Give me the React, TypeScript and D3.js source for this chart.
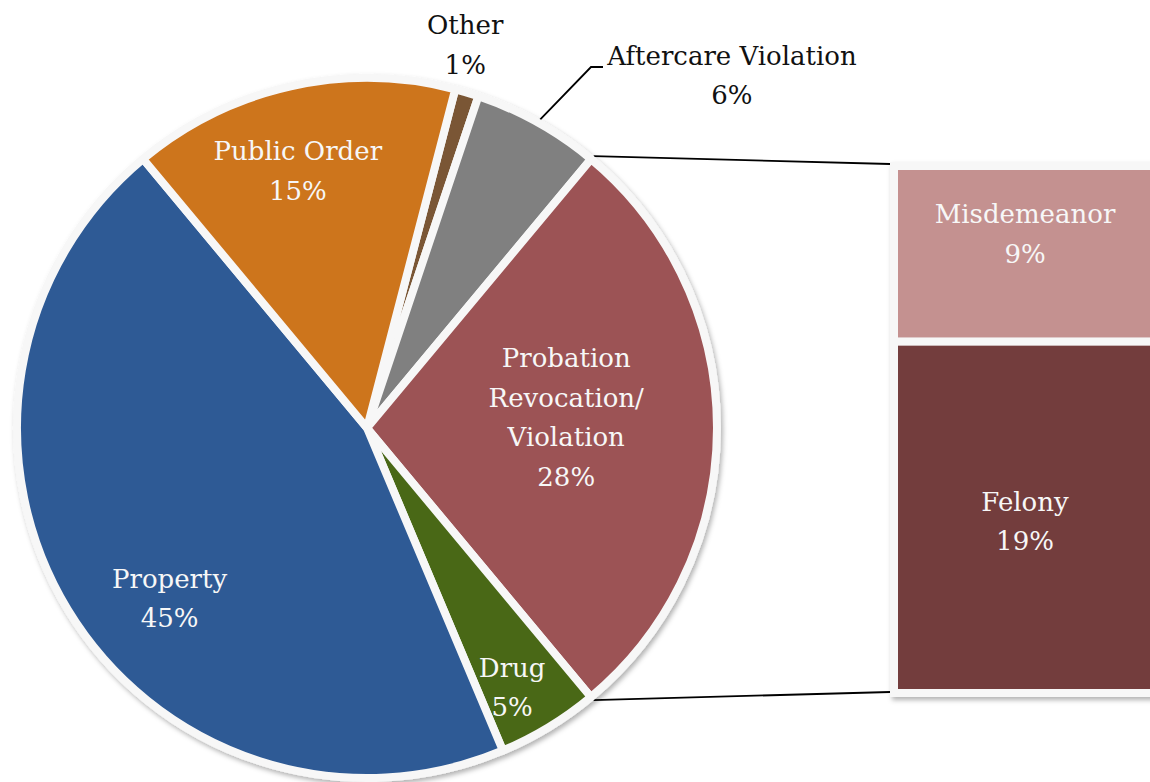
import React from "react";
import * as d3 from "d3";

const categories = ["Other", "Aftercare Violation", "Probation Revocation/ Violation", "Drug", "Property", "Public Order"];
const values = [1.1, 5.9, 27.9, 4.7, 45.3, 15.1];
const colors = ["#7A5635", "#808080", "#9C5254", "#4A6818", "#2E5A95", "#CD741E"];
const labelLines = [["Other"], ["Aftercare Violation"], ["Probation", "Revocation/", "Violation"], ["Drug"], ["Property"], ["Public Order"]];

const subCategories = ["Misdemeanor", "Felony"];
const subValues = [9.3, 18.6];
const subColors = ["#C49190", "#733D3E"];

const W = 1150, H = 782;
const CX = 367, CY = 428, R = 350;
const FONT = "'DejaVu Serif', serif";
const FS = 26;
const LH = 39.5;

// label placement: radius fraction and angle offset (deg) relative to slice mid-angle
const labelPlace: Record<string, { rf: number; da: number; dark?: boolean }> = {
  "Other": { rf: 1.13, da: -2.2, dark: true },
  "Aftercare Violation": { rf: 1.45, da: 16.8, dark: true },
  "Probation Revocation/ Violation": { rf: 0.57, da: -3 },
  "Drug": { rf: 0.85, da: 2.1 },
  "Property": { rf: 0.745, da: -9.5 },
  "Public Order": { rf: 0.76, da: -2.5 },
};

const rad = (d: number) => (d * Math.PI) / 180;
const polar = (a: number, r: number): [number, number] => [CX + r * Math.sin(a), CY - r * Math.cos(a)];

export default function App() {
  const startDeg = 14.6;
  const pie = d3.pie<number>().sort(null).value((d) => d).startAngle(rad(startDeg)).endAngle(rad(startDeg + 360));
  const arcs = pie(values);
  const arc = d3.arc<d3.PieArcDatum<number>>().innerRadius(0).outerRadius(R);

  const probIdx = 2;
  const probArc = arcs[probIdx];
  const total = d3.sum(subValues);
  const y = d3.scaleLinear().domain([0, total]).range([166, 693]);
  const barX = 894, barW = 262;
  const stacked = subValues.map((v, i) => ({ v, y0: d3.sum(subValues.slice(0, i)), y1: d3.sum(subValues.slice(0, i + 1)) }));

  const pTop = polar(probArc.startAngle, R + 4);
  const pBot = polar(probArc.endAngle, R + 4);

  const pct = (v: number) => `${Math.round(v)}%`;

  // Aftercare leader
  const acArc = arcs[1];
  const acMid = (acArc.startAngle + acArc.endAngle) / 2;
  const acStart = polar(acMid, R + 1);

  return (
    <svg width={W} height={H} style={{ position: "absolute", left: 0, top: 0, background: "#fff" }}>
      <defs>
        <filter id="sh" x="-10%" y="-10%" width="130%" height="130%">
          <feDropShadow dx="2" dy="3" stdDeviation="2.5" floodColor="#000" floodOpacity="0.3" />
        </filter>
      </defs>
      {/* connector lines */}
      <line x1={pTop[0]} y1={pTop[1]} x2={barX - 4} y2={y(0) - 2} stroke="#000" strokeWidth={1.8} />
      <line x1={pBot[0]} y1={pBot[1]} x2={barX - 4} y2={y(total) - 1} stroke="#000" strokeWidth={1.8} />
      {/* leader for aftercare */}
      <polyline
        points={`${acStart[0]},${acStart[1]} 591,67 603,67`}
        fill="none"
        stroke="#000"
        strokeWidth={1.8}
      />
      <g filter="url(#sh)">
        <g transform={`translate(${CX},${CY})`}>
          {arcs.map((a, i) => (
            <path key={categories[i]} d={arc(a) as string} fill={colors[i]} stroke="#F7F7F7" strokeWidth={8} strokeLinejoin="round" />
          ))}
        </g>
      </g>
      <g filter="url(#sh)">
        {stacked.map((s, i) => (
          <rect key={subCategories[i]} x={barX} y={y(s.y0)} width={barW} height={y(s.y1) - y(s.y0)} fill={subColors[i]} stroke="#F7F7F7" strokeWidth={8} />
        ))}
      </g>
      {/* pie labels */}
      {arcs.map((a, i) => {
        const name = categories[i];
        const pl = labelPlace[name];
        const mid = (a.startAngle + a.endAngle) / 2 + rad(pl.da);
        const [lx, ly] = polar(mid, pl.rf * R);
        const lines = [...labelLines[i], pct(values[i])];
        const top = ly - ((lines.length - 1) * LH) / 2;
        return (
          <text key={name} textAnchor="middle" fontFamily={FONT} fontSize={FS} fill={pl.dark ? "#111" : "#F7F7F7"}>
            {lines.map((t, j) => (
              <tspan key={j} x={lx} y={top + j * LH + 9}>{t}</tspan>
            ))}
          </text>
        );
      })}
      {/* bar labels */}
      {stacked.map((s, i) => {
        const cx = barX + barW / 2;
        const cy = i === 0 ? y(s.y0) + 68 : (y(s.y0) + y(s.y1)) / 2 + 4;
        return (
          <text key={subCategories[i]} textAnchor="middle" fontFamily={FONT} fontSize={FS} fill="#F7F7F7">
            <tspan x={cx} y={cy - LH / 2 + 9}>{subCategories[i]}</tspan>
            <tspan x={cx} y={cy + LH / 2 + 9}>{pct(subValues[i])}</tspan>
          </text>
        );
      })}
    </svg>
  );
}
